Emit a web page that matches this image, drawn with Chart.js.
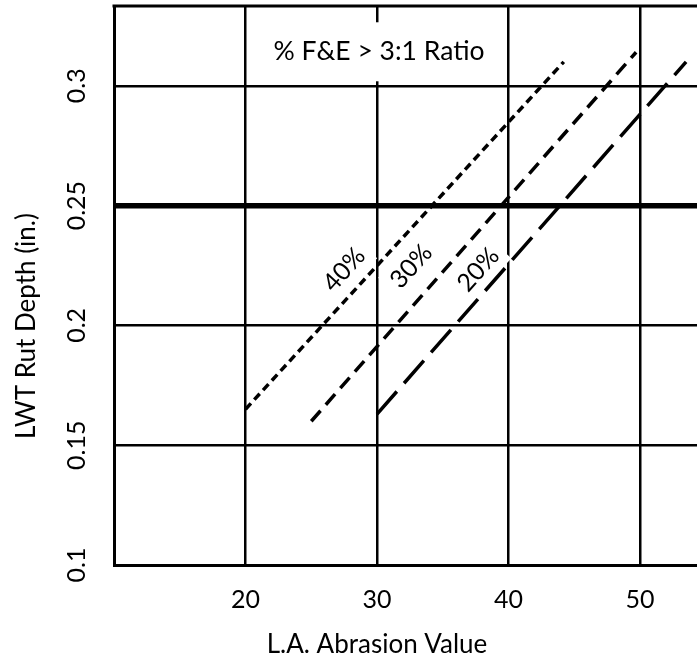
<!DOCTYPE html>
<html><head><meta charset="utf-8">
<script src="https://cdn.jsdelivr.net/npm/chart.js@4.4.0/dist/chart.umd.min.js"></script>
<style>html,body{margin:0;padding:0;background:#fff;overflow:hidden}canvas{display:block}</style>
</head><body>
<canvas id="c" width="697" height="659"></canvas>
<script>
// ---- data ----
const seriesNames = ['40%', '30%', '20%'];
const laAbrasion40 = [20, 44.2];
const rutDepth40 = [0.165, 0.310];
const laAbrasion30 = [25, 49.7];
const rutDepth30 = [0.160, 0.314];
const laAbrasion20 = [30, 53.5];
const rutDepth20 = [0.163, 0.310];
const xTickValues = [20, 30, 40, 50];
const yTickValues = [0.1, 0.15, 0.2, 0.25, 0.3];
const yTickLabels = ['0.1', '0.15', '0.2', '0.25', '0.3'];
const limitRutDepth = 0.25;
const xTitle = 'L.A. Abrasion Value';
const yTitle = 'LWT Rut Depth (in.)';
const noteText = '% F&E > 3:1 Ratio';

// ---- layout / style ----
const FONT = 'Lato, "Open Sans", sans-serif';
const noteAt = [30.15, 0.3144];
const labelAt = [[27.5, 0.2233], [32.6, 0.2246], [37.7, 0.2233]];
const dashes = [[8, 5], [14, 8], [30, 11]];

const toPts = (xs, ys) => xs.map((v, i) => ({x: v, y: ys[i]}));
const seriesX = [laAbrasion40, laAbrasion30, laAbrasion20];
const seriesY = [rutDepth40, rutDepth30, rutDepth20];

const overlay = {
  id: 'overlay',
  beforeDatasetsDraw(chart) {
    const {ctx, scales: {x, y}} = chart;
    ctx.save();
    ctx.textAlign = 'center'; ctx.textBaseline = 'middle';
    ctx.font = '26.5px ' + FONT;
    const nx = x.getPixelForValue(noteAt[0]), ny = y.getPixelForValue(noteAt[1]);
    const w = ctx.measureText(noteText).width;
    ctx.fillStyle = '#fff';
    ctx.fillRect(nx - w / 2 - 10, ny - 29, w + 20, 59);
    ctx.fillStyle = '#000';
    ctx.fillText(noteText, nx, ny);
    ctx.font = '25px ' + FONT;
    seriesNames.forEach((t, i) => {
      const px = x.getPixelForValue(labelAt[i][0]), py = y.getPixelForValue(labelAt[i][1]);
      ctx.save();
      ctx.translate(px, py);
      ctx.rotate(-48 * Math.PI / 180);
      const tw = ctx.measureText(t).width;
      ctx.fillStyle = '#fff';
      ctx.fillRect(-tw / 2 - 6, -17, tw + 12, 34);
      ctx.fillStyle = '#000';
      ctx.fillText(t, 0, 0);
      ctx.restore();
    });
    ctx.restore();
  },
  afterDraw(chart) {
    const {ctx, chartArea, scales: {y}} = chart;
    ctx.save();
    ctx.strokeStyle = '#000'; ctx.lineWidth = 3;
    ctx.beginPath();
    ctx.moveTo(chartArea.left - 1.5, chartArea.top);
    ctx.lineTo(chartArea.right, chartArea.top);
    ctx.stroke();
    ctx.fillStyle = '#000';
    ctx.textAlign = 'center'; ctx.textBaseline = 'middle';
    ctx.font = '25px ' + FONT;
    yTickValues.forEach((v, i) => {
      ctx.save();
      ctx.translate(77, y.getPixelForValue(v));
      ctx.rotate(-Math.PI / 2);
      ctx.fillText(yTickLabels[i], 0, 0);
      ctx.restore();
    });
    ctx.font = '26px ' + FONT;
    ctx.fillText(xTitle, 377, 645);
    ctx.save();
    ctx.translate(27, 326);
    ctx.rotate(-Math.PI / 2);
    ctx.fillText(yTitle, 0, 0);
    ctx.restore();
    ctx.restore();
  }
};

new Chart(document.getElementById('c'), {
  type: 'scatter',
  data: {
    datasets: seriesNames.map((n, i) => ({
      label: n,
      data: toPts(seriesX[i], seriesY[i]),
      showLine: true,
      borderColor: '#000',
      borderWidth: 3.5,
      borderDash: dashes[i],
      borderCapStyle: 'butt',
      pointRadius: 0,
      fill: false
    }))
  },
  options: {
    responsive: false,
    animation: false,
    events: [],
    layout: {padding: {top: 6, left: 0, right: 0, bottom: 0}},
    plugins: {legend: {display: false}, tooltip: {enabled: false}},
    scales: {
      x: {
        type: 'linear', min: 10, max: 54.33,
        afterBuildTicks: s => { s.ticks = xTickValues.map(v => ({value: v})); },
        afterFit: s => { s.height = 94; },
        grid: {color: '#000', lineWidth: 2.5, drawTicks: false},
        border: {color: '#000', width: 3},
        ticks: {color: '#000', font: {family: FONT, size: 25}, padding: 20, maxRotation: 0}
      },
      y: {
        type: 'linear', min: 0.1, max: 0.3333,
        afterBuildTicks: s => { s.ticks = yTickValues.map(v => ({value: v})); },
        afterFit: s => { s.width = 114; },
        grid: {color: '#000', lineWidth: c => (c.tick && c.tick.value === limitRutDepth ? 5.5 : 2.5), drawTicks: false},
        border: {color: '#000', width: 3},
        ticks: {display: false}
      }
    }
  },
  plugins: [overlay]
});
</script>
</body></html>
